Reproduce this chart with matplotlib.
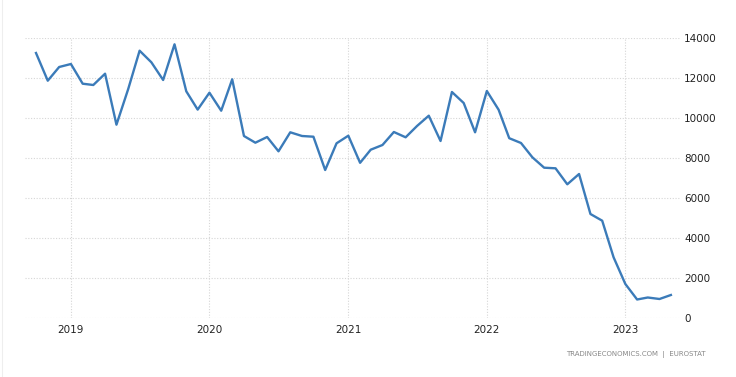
import matplotlib
matplotlib.use("Agg")
import matplotlib.pyplot as plt
import matplotlib.dates as mdates
import pandas as pd
from matplotlib.lines import Line2D

# monthly values, Oct 2018 -> May 2023
months = pd.date_range("2018-10-01", "2023-05-01", freq="MS")
values = [
	13250, 11865, 12550,
	12700, 11715, 11650, 12215, 9665, 11450, 13365, 12785, 11900, 13685, 11335, 10420,
	11265, 10365, 11935, 9100, 8765, 9050, 8335, 9285, 9100, 9065, 7400, 8735,
	9115, 7760, 8415, 8650, 9300, 9035, 9600, 10115, 8850, 11300, 10750, 9285,
	11350, 10415, 8990, 8750, 8035, 7515, 7485, 6685, 7200, 5200, 4865, 3035,
	1700, 925, 1025, 950, 1150,
]
yticks = [0, 2000, 4000, 6000, 8000, 10000, 12000, 14000]
years = ["2019", "2020", "2021", "2022", "2023"]
source = "TRADINGECONOMICS.COM  |  EUROSTAT"

fig = plt.figure(figsize=(7.36, 3.77), dpi=100)
ax = fig.add_axes([25/736, 59/377, 655/736, 280/377])

ax.plot(months, values, color="#3b7bb9", lw=1.7, solid_joinstyle="round")

ax.set_ylim(0, 14000)
ax.set_xlim(pd.Timestamp("2018-09-02"), pd.Timestamp("2023-05-25"))
ax.set_yticks(yticks)
ax.set_xticks([pd.Timestamp(y + "-01-01") for y in years])
ax.xaxis.set_major_formatter(mdates.DateFormatter("%Y"))

ax.yaxis.tick_right()
ax.tick_params(axis="both", length=0, labelsize=7.5, labelcolor="#222222")
ax.tick_params(axis="y", pad=3)
ax.tick_params(axis="x", pad=5)
ax.grid(True, ls=(0, (1, 1.5)), color="#d6d6d6", lw=0.8)
ax.set_axisbelow(True)
for s in ax.spines.values():
	s.set_visible(False)

fig.text(706/736, 1 - 355/377, source, ha="right", va="center", fontsize=5, color="#888888")
fig.add_artist(Line2D([2/736, 2/736], [0, 1], color="#eeeeee", lw=0.8, transform=fig.transFigure))

fig.savefig("out.png", dpi=100)
